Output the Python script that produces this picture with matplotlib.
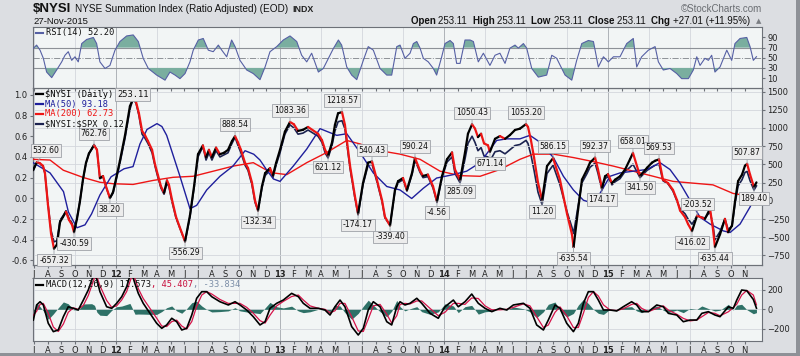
import matplotlib.pyplot as plt
from matplotlib.collections import LineCollection
from matplotlib.lines import Line2D
from matplotlib.patches import Rectangle
import numpy as np

W, H = 800, 356

# ---------------- data (dates as decimal years) ----------------
nysi_t = [2011.494, 2011.518, 2011.537, 2011.555, 2011.567, 2011.585, 2011.604, 2011.622, 2011.640, 2011.659,
          2011.677, 2011.695, 2011.713, 2011.732, 2011.744, 2011.762, 2011.780, 2011.799, 2011.817, 2011.835,
          2011.854, 2011.866, 2011.884, 2011.902, 2011.921, 2011.939, 2011.963, 2011.982, 2012.000, 2012.024,
          2012.055, 2012.085, 2012.104, 2012.122, 2012.140, 2012.159, 2012.177, 2012.195, 2012.220, 2012.238,
          2012.256, 2012.274, 2012.293, 2012.311, 2012.323, 2012.341, 2012.366, 2012.390, 2012.421, 2012.451,
          2012.476, 2012.500, 2012.530, 2012.549, 2012.567, 2012.585, 2012.610, 2012.634, 2012.659, 2012.683,
          2012.707, 2012.726, 2012.744, 2012.762, 2012.787, 2012.805, 2012.829, 2012.848, 2012.866, 2012.890,
          2012.909, 2012.939, 2012.957, 2012.976, 2013.000, 2013.030, 2013.061, 2013.085, 2013.110, 2013.140,
          2013.171, 2013.232, 2013.256, 2013.275, 2013.293, 2013.317, 2013.335, 2013.354, 2013.378, 2013.396,
          2013.427, 2013.457, 2013.476, 2013.506, 2013.537, 2013.561, 2013.591, 2013.622, 2013.640, 2013.671,
          2013.701, 2013.720, 2013.750, 2013.774, 2013.805, 2013.823, 2013.854, 2013.872, 2013.902, 2013.933,
          2013.957, 2013.988, 2014.018, 2014.049, 2014.067, 2014.098, 2014.128, 2014.146, 2014.171, 2014.189,
          2014.207, 2014.226, 2014.244, 2014.268, 2014.280, 2014.311, 2014.341, 2014.372, 2014.402, 2014.433,
          2014.463, 2014.500, 2014.512, 2014.530, 2014.549, 2014.573, 2014.598, 2014.628, 2014.665, 2014.707,
          2014.750, 2014.780, 2014.790, 2014.817, 2014.841, 2014.872, 2014.890, 2014.921, 2014.939, 2014.963,
          2014.982, 2015.000, 2015.024, 2015.043, 2015.073, 2015.104, 2015.134, 2015.152, 2015.195, 2015.238,
          2015.268, 2015.287, 2015.311, 2015.335, 2015.366, 2015.396, 2015.421, 2015.439, 2015.470, 2015.488,
          2015.512, 2015.543, 2015.591, 2015.622, 2015.640, 2015.652, 2015.683, 2015.713, 2015.732, 2015.756,
          2015.774, 2015.793, 2015.817, 2015.835, 2015.848, 2015.866, 2015.890, 2015.905]
nysi_v = [420, 532.60, 515, 480, 380, -50, -450, -657.32, -600, -290,
          -220, -150, -260, -330, -430.59, -250, -10, 300, 520, 650,
          720, 762.76, 700, 313, 340, 200, 38.20, 120, 300, 550,
          900, 1300, 1400, 1360, 1200, 960, 900, 820, 700, 500,
          350, 200, 110, 280, 220, 20, -220, -370, -556.29, -200,
          200, 640, 760, 600, 700, 600, 730, 640, 660, 700,
          820, 888.54, 800, 700, 520, 450, 250, 0, -132.34, 200,
          380, 450, 350, 520, 700, 950, 1083.36, 1050, 960, 975,
          1014, 921, 833, 700, 621.12, 800, 1043, 1202, 1218.57, 1043,
          480, 60, -174.17, 243, 524, 540.43, 290, 8, -220, -339.40,
          150, 270, 313, 150, 383, 590.24, 412, 341, 360, 200,
          -4.56, 341, 570, 664, 430, 285.09, 664, 921, 1050.43, 991,
          875, 921, 789, 762, 671.14, 851, 889, 851, 903, 973,
          991, 1053.20, 1015, 833, 594, 250, 11.20, 477, 586.15, 290,
          -178, -459, -635.54, -132, 290, 430, 524, 592.37, 430, 174.17,
          337, 365, 243, 290, 337, 430, 570, 658.01, 341.50, 454,
          524, 550, 569.53, 290, 243, 150, 8, -132, -226, -319,
          -416.02, -203.52, -248, -108, -389, -635.44, -459, -248, -431, -338,
          -10, 270, 360, 482, 507.87, 360, 189.40, 253.11]
# $NYSI:$SPX ratio (left axis), same dates
ratio_v = [0.26, 0.35, 0.33, 0.31, 0.24, -0.05, -0.31, -0.42, -0.41, -0.21,
           -0.17, -0.12, -0.19, -0.24, -0.31, -0.19, -0.03, 0.18, 0.34, 0.43,
           0.48, 0.52, 0.47, 0.19, 0.21, 0.11, 0.00, 0.05, 0.17, 0.34,
           0.58, 0.86, 0.96, 0.92, 0.80, 0.62, 0.58, 0.53, 0.44, 0.31,
           0.20, 0.10, 0.04, 0.15, 0.11, -0.03, -0.19, -0.29, -0.42, -0.18,
           0.10, 0.40, 0.50, 0.37, 0.44, 0.37, 0.46, 0.40, 0.42, 0.44,
           0.53, 0.59, 0.51, 0.44, 0.32, 0.27, 0.13, -0.04, -0.12, 0.10,
           0.22, 0.27, 0.20, 0.32, 0.44, 0.62, 0.71, 0.68, 0.62, 0.63,
           0.66, 0.60, 0.54, 0.44, 0.39, 0.51, 0.65, 0.74, 0.75, 0.67,
           0.29, 0.00, -0.16, 0.13, 0.32, 0.33, 0.16, -0.03, -0.19, -0.26,
           0.07, 0.15, 0.18, 0.07, 0.23, 0.37, 0.25, 0.20, 0.21, 0.10,
           -0.04, 0.20, 0.35, 0.40, 0.24, 0.15, 0.38, 0.53, 0.60, 0.54,
           0.46, 0.49, 0.41, 0.40, 0.36, 0.45, 0.46, 0.43, 0.47, 0.51,
           0.52, 0.56, 0.53, 0.42, 0.27, 0.06, -0.06, 0.24, 0.32, 0.13,
           -0.13, -0.28, -0.34, -0.08, 0.15, 0.24, 0.30, 0.34, 0.24, 0.08,
           0.19, 0.21, 0.13, 0.16, 0.19, 0.26, 0.30, 0.33, 0.20, 0.27,
           0.30, 0.32, 0.33, 0.17, 0.14, 0.07, -0.03, -0.10, -0.15, -0.20,
           -0.25, -0.17, -0.19, -0.13, -0.26, -0.40, -0.32, -0.20, -0.30, -0.27,
           -0.06, 0.12, 0.18, 0.25, 0.26, 0.17, 0.08, 0.12]

ma50_t = [2011.494, 2011.598, 2011.680, 2011.710, 2011.762, 2011.811, 2011.851, 2011.902, 2011.970, 2012.049,
          2012.104, 2012.146, 2012.189, 2012.250, 2012.280, 2012.309, 2012.390, 2012.451, 2012.492, 2012.553,
          2012.634, 2012.713, 2012.787, 2012.840, 2012.878, 2012.920, 2012.960, 2013.000, 2013.081, 2013.163,
          2013.244, 2013.346, 2013.407, 2013.488, 2013.569, 2013.651, 2013.732, 2013.803, 2013.874, 2013.955,
          2014.057, 2014.138, 2014.220, 2014.321, 2014.382, 2014.463, 2014.524, 2014.585, 2014.667, 2014.728,
          2014.789, 2014.850, 2014.901, 2014.951, 2015.012, 2015.073, 2015.154, 2015.236, 2015.317, 2015.378,
          2015.439, 2015.500, 2015.561, 2015.622, 2015.703, 2015.744, 2015.805, 2015.866, 2015.905]
ma50_v = [525, 383, 126, -154, -370, -330, -180, 80, 330, 440,
          470, 780, 980, 1060, 1020, 899, 337, -108, -62, 149,
          337, 477, 688, 640, 560, 420, 300, 267, 477, 711,
          991, 899, 921, 664, 383, 197, 149, 32, 173, 313,
          360, 407, 524, 829, 851, 851, 899, 805, 594, 337,
          149, 8, -28, 102, 337, 383, 407, 430, 524, 430,
          243, 8, -225, -319, -413, -435, -319, -84, 93.18]

ma200_t = [2011.494, 2011.598, 2011.679, 2011.801, 2011.902, 2011.982, 2012.104, 2012.226, 2012.348, 2012.470,
           2012.593, 2012.715, 2012.837, 2012.919, 2012.959, 2013.041, 2013.163, 2013.285, 2013.407, 2013.488,
           2013.610, 2013.732, 2013.854, 2013.976, 2014.098, 2014.220, 2014.341, 2014.463, 2014.545, 2014.667,
           2014.789, 2014.911, 2015.032, 2015.154, 2015.276, 2015.396, 2015.518, 2015.640, 2015.762, 2015.884,
           2015.905]
ma200_v = [570, 560, 420, 320, 255, 235, 225, 280, 323, 337,
           407, 477, 524, 420, 383, 360, 524, 664, 829, 781,
           688, 641, 570, 407, 346, 337, 430, 570, 641, 641,
           594, 538, 477, 407, 337, 267, 243, 219, 102, 56,
           62.73]

rsi_t = [2011.496, 2011.516, 2011.537, 2011.557, 2011.577, 2011.608, 2011.638, 2011.669, 2011.689, 2011.709,
         2011.730, 2011.750, 2011.770, 2011.791, 2011.821, 2011.862, 2011.882, 2011.902, 2011.933, 2011.963,
         2011.994, 2012.024, 2012.065, 2012.105, 2012.136, 2012.166, 2012.197, 2012.248, 2012.299, 2012.329,
         2012.360, 2012.390, 2012.421, 2012.451, 2012.471, 2012.502, 2012.532, 2012.563, 2012.593, 2012.624,
         2012.645, 2012.675, 2012.705, 2012.726, 2012.756, 2012.797, 2012.837, 2012.878, 2012.909, 2012.939,
         2012.980, 2013.020, 2013.061, 2013.102, 2013.132, 2013.163, 2013.193, 2013.234, 2013.264, 2013.295,
         2013.325, 2013.356, 2013.376, 2013.407, 2013.437, 2013.468, 2013.508, 2013.538, 2013.569, 2013.610,
         2013.651, 2013.681, 2013.712, 2013.732, 2013.762, 2013.793, 2013.813, 2013.834, 2013.854, 2013.874,
         2013.904, 2013.935, 2013.955, 2013.986, 2014.006, 2014.037, 2014.057, 2014.077, 2014.098, 2014.128,
         2014.159, 2014.179, 2014.209, 2014.240, 2014.280, 2014.311, 2014.341, 2014.372, 2014.402, 2014.433,
         2014.453, 2014.484, 2014.504, 2014.535, 2014.575, 2014.626, 2014.657, 2014.687, 2014.738, 2014.779,
         2014.809, 2014.840, 2014.880, 2014.911, 2014.941, 2014.972, 2015.002, 2015.033, 2015.073, 2015.114,
         2015.154, 2015.175, 2015.205, 2015.246, 2015.287, 2015.307, 2015.337, 2015.378, 2015.419, 2015.449,
         2015.490, 2015.520, 2015.541, 2015.561, 2015.591, 2015.612, 2015.632, 2015.652, 2015.683, 2015.724,
         2015.754, 2015.774, 2015.805, 2015.846, 2015.866, 2015.886, 2015.905]
rsi_v = [68.6, 75, 65, 49, 22, 11, 26, 42, 55, 62,
         45, 52, 42, 78, 86, 90, 78, 42, 29, 35,
         65, 82, 93, 95, 82, 49, 29, 16, 6, 22,
         16, 9, 19, 42, 65, 85, 88, 65, 62, 75,
         65, 52, 85, 72, 45, 26, 19, 7, 32, 62,
         72, 85, 93, 82, 55, 42, 59, 22, 29, 49,
         68, 85, 75, 32, 16, 7, 45, 72, 65, 29,
         16, 16, 72, 75, 49, 59, 78, 82, 69, 49,
         42, 29, 16, 52, 78, 84, 78, 39, 39, 85,
         85, 82, 42, 59, 35, 55, 59, 39, 69, 75,
         69, 78, 69, 29, 12, 16, 55, 49, 16, 6,
         45, 78, 84, 82, 32, 52, 42, 52, 52, 78,
         88, 32, 52, 65, 72, 42, 26, 29, 19, 9,
         9, 26, 52, 35, 49, 45, 55, 22, 32, 65,
         45, 78, 88, 90, 72, 45, 52.20]

macd_t = [2011.496, 2011.516, 2011.537, 2011.557, 2011.587, 2011.618, 2011.648, 2011.679, 2011.709, 2011.740,
          2011.770, 2011.801, 2011.831, 2011.852, 2011.869, 2011.884, 2011.902, 2011.943, 2011.974, 2012.004,
          2012.035, 2012.065, 2012.085, 2012.098, 2012.116, 2012.136, 2012.166, 2012.207, 2012.248, 2012.279,
          2012.309, 2012.340, 2012.370, 2012.401, 2012.431, 2012.462, 2012.492, 2012.523, 2012.553, 2012.584,
          2012.634, 2012.685, 2012.726, 2012.756, 2012.797, 2012.837, 2012.878, 2012.909, 2012.939, 2012.980,
          2013.020, 2013.071, 2013.112, 2013.142, 2013.183, 2013.234, 2013.274, 2013.305, 2013.335, 2013.366,
          2013.396, 2013.437, 2013.477, 2013.508, 2013.538, 2013.569, 2013.610, 2013.651, 2013.681, 2013.712,
          2013.732, 2013.762, 2013.793, 2013.834, 2013.864, 2013.915, 2013.965, 2014.006, 2014.057, 2014.087,
          2014.128, 2014.169, 2014.209, 2014.250, 2014.291, 2014.341, 2014.382, 2014.423, 2014.484, 2014.524,
          2014.565, 2014.606, 2014.636, 2014.677, 2014.707, 2014.748, 2014.789, 2014.819, 2014.850, 2014.880,
          2014.911, 2014.941, 2014.972, 2015.012, 2015.053, 2015.093, 2015.144, 2015.175, 2015.205, 2015.246,
          2015.297, 2015.337, 2015.368, 2015.419, 2015.459, 2015.500, 2015.541, 2015.572, 2015.612, 2015.652,
          2015.683, 2015.734, 2015.764, 2015.785, 2015.815, 2015.846, 2015.886, 2015.905]
macd_v = [-109, 44, 77, 44, -142, -227, -210, -75, 26, 10,
          -7, 94, 196, 297, 360, 300, 180, 26, 10, 61,
          128, 229, 340, 355, 260, 162, 61, -41, -142, -193,
          -159, -91, -126, -210, -193, -58, 112, 179, 179, 128,
          77, 44, 77, 44, -7, -75, -159, -126, 10, 61,
          94, 162, 128, 61, 10, 10, -7, -58, 26, 94,
          26, -176, -261, -193, -7, 77, 26, -126, -159, 26,
          77, 44, 61, 112, 61, -41, -91, 26, 94, 26,
          77, 155, 61, 10, -24, 10, -7, 44, 61, 10,
          -159, -210, -109, 44, 10, -142, -227, -142, 61, 179,
          179, 94, -7, -7, -17, 26, 77, 44, -24, -24,
          44, 26, -41, -58, -126, -109, -109, -41, -24, -58,
          -75, 26, 10, 94, 196, 189, 100, 11.573]
signal_v = [-60, -20, 50, 60, -40, -180, -225, -150, -30, 15,
            0, 40, 140, 240, 320, 330, 240, 90, 20, 35,
            95, 180, 280, 340, 310, 210, 110, 10, -90, -170,
            -175, -125, -110, -170, -200, -125, 30, 145, 180, 155,
            100, 60, 60, 60, 20, -40, -115, -140, -60, 35,
            80, 130, 145, 95, 35, 10, 0, -35, -15, 60,
            60, -75, -220, -225, -100, 35, 50, -50, -140, -65,
            50, 60, 55, 85, 85, 10, -65, -30, 60, 60,
            50, 115, 110, 35, -5, -5, 0, 20, 55, 35,
            -75, -185, -160, -30, 25, -65, -185, -185, -40, 120,
            180, 135, 45, -7, -12, 5, 50, 60, 10, -24,
            10, 35, -8, -50, -92, -118, -109, -75, -32, -41,
            -66, -25, 18, 52, 145, 192, 145, 45.407]
hist_v = [-49, 64, 27, -16, -102, -47, 15, 75, 56, -5,
          -7, 54, 56, 57, 40, -30, -60, -64, -10, 26,
          33, 49, 60, 15, -50, -48, -49, -51, -52, -23,
          16, 34, -16, -40, 7, 67, 82, 34, -1, -27,
          -23, -16, 17, -16, -27, -35, -44, 14, 70, 26,
          14, 32, -17, -34, -25, 0, -7, -23, 41, 34,
          -34, -101, -41, 32, 93, 42, -24, -76, -19, 91,
          27, -16, 6, 27, -24, -51, -26, 56, 34, -34,
          27, 40, -49, -25, -19, 15, -7, 24, 6, -25,
          -84, -25, 51, 74, -15, -77, -42, 43, 101, 59,
          -1, -41, -52, 0, -5, 21, 27, -16, -34, 0,
          34, -9, -33, -8, -34, 9, 0, 34, 8, -17,
          -9, 51, -8, 42, 51, -3, -45, -33.834]

# peak / trough value labels on the $NYSI line
label_t = [2011.518, 2011.622, 2011.744, 2011.866, 2011.963, 2012.421, 2012.726, 2012.866, 2013.061, 2013.293,
           2013.378, 2013.476, 2013.561, 2013.671, 2013.823, 2013.957, 2014.098, 2014.171, 2014.280, 2014.500,
           2014.598, 2014.665, 2014.790, 2014.921, 2014.963, 2015.152, 2015.195, 2015.311, 2015.512, 2015.543,
           2015.652, 2015.848, 2015.890]
label_v = [532.60, -657.32, -430.59, 762.76, 38.20, -556.29, 888.54, -132.34, 1083.36, 621.12,
           1218.57, -174.17, 540.43, -339.40, 590.24, -4.56, 285.09, 1050.43, 671.14, 1053.20,
           11.20, 586.15, -635.54, 592.37, 174.17, 658.01, 341.50, 569.53, -416.02, -203.52,
           -635.44, 507.87, 189.40]
label_up = [1, 0, 0, 1, 0, 0, 1, 0, 1, 0,
            1, 0, 1, 0, 1, 0, 0, 1, 0, 1,
            0, 1, 0, 1, 0, 1, 0, 1, 0, 1,
            0, 1, 0]

# ---------------- styling ----------------
plt.rcParams['font.family'] = 'DejaVu Sans'
FIG_BG = '#dcdee2'
PANEL_BG = '#f2f5f5'
GRID = '#d3d7dc'
YEAR_GRID = '#aeb2b8'
SPINE = '#6d7178'
TICK_FS = 6
MONO = 'DejaVu Sans Mono'
HEAD = 'Liberation Sans'


def fx(px):
    return px / W


def fy(py):
    return 1 - py / H


fig = plt.figure(figsize=(W / 100, H / 100), dpi=100, facecolor=FIG_BG)
renderer = fig.canvas.get_renderer()


def text_row(pieces, x0, y, align='left', gap=0):
    # pieces: (text, fontsize, weight, color, family)
    arts = []
    for txt, fs, wt, col, fam in pieces:
        t = fig.text(0, fy(y), txt, fontsize=fs, fontweight=wt, color=col, family=fam,
                     va='center', ha='left')
        arts.append(t)
    widths = [a.get_window_extent(renderer).width for a in arts]
    total = sum(widths) + gap * (len(arts) - 1)
    x = x0 if align == 'left' else x0 - total
    for a, w in zip(arts, widths):
        a.set_x(fx(x))
        x += w + gap


left, right = 33, 761.7
pw = (right - left) / W
ax_rsi = fig.add_axes([fx(left), fy(88.3), pw, (88.3 - 27.3) / H])
ax = fig.add_axes([fx(left), fy(265), pw, (265 - 88.3) / H])
ax_macd = fig.add_axes([fx(left), fy(341), pw, (341 - 278.3) / H])

xmin, xmax = 2011.494, 2015.937

# month ticks
tick_pos, tick_lab, tick_bold, quarter_pos, year_pos = [], [], [], [], []
for yr in range(2011, 2016):
    for m in range(1, 13):
        p = yr + (m - 1) / 12
        if p < 2011.49 or p > 2015.85:
            continue
        tick_pos.append(p)
        if m == 1:
            tick_lab.append('%02d' % (yr % 100))
            tick_bold.append(True)
            year_pos.append(p)
        else:
            tick_lab.append('JFMAMJJASOND'[m - 1])
            tick_bold.append(False)
        if m in (4, 7, 10):
            quarter_pos.append(p)


def style_panel(a, show_x):
    a.set_xlim(xmin, xmax)
    a.set_facecolor(PANEL_BG)
    for s in a.spines.values():
        s.set_color(SPINE)
        s.set_linewidth(0.8)
    a.set_xticks(tick_pos)
    if show_x:
        a.set_xticklabels(tick_lab)
        for lab, b in zip(a.get_xticklabels(), tick_bold):
            if b:
                lab.set_fontweight('bold')
                lab.set_fontsize(TICK_FS + 0.8)
    else:
        a.set_xticklabels([])
    a.tick_params(axis='x', labelsize=TICK_FS, length=2, pad=1.5, color=SPINE, colors='#222222')
    a.tick_params(axis='y', labelsize=TICK_FS, length=2, pad=2, color=SPINE, colors='#222222')


# ---------------- RSI panel ----------------
style_panel(ax_rsi, False)
ax_rsi.set_ylim(-10, 110)
ax_rsi.yaxis.tick_right()
ax_rsi.set_yticks([10, 30, 50, 70, 90])
for p in quarter_pos:
    ax_rsi.axvline(p, color=GRID, lw=0.6, zorder=0)
for p in year_pos:
    ax_rsi.axvline(p, color=YEAR_GRID, lw=0.7, zorder=0)
ax_rsi.axhline(70, color='#8d9197', lw=0.8, zorder=1)
ax_rsi.axhline(30, color='#8d9197', lw=0.8, zorder=1)
ax_rsi.axhline(50, color='#8d9197', lw=0.7, ls='-.', zorder=1)
rt = np.array(rsi_t)
rv = np.array(rsi_v)
ax_rsi.fill_between(rt, 70, rv, where=rv > 70, interpolate=True, color='#7aae9f', lw=0, zorder=2)
ax_rsi.fill_between(rt, 30, rv, where=rv < 30, interpolate=True, color='#7aae9f', lw=0, zorder=2)
ax_rsi.plot(rt, rv, color='#5660a4', lw=0.8, zorder=3)
fig.add_artist(Line2D([fx(36), fx(43)], [fy(32.5), fy(32.5)], color='#5660a4', lw=1.5, transform=fig.transFigure))
fig.text(fx(46), fy(32.5), 'RSI(14) 52.20', fontsize=6.3, family=MONO, va='center', ha='left', color='#111111')

# ---------------- main panel ----------------
axl = ax.twinx()
axl.set_zorder(ax.get_zorder() - 1)
ax.patch.set_visible(False)
axl.patch.set_visible(True)
style_panel(ax, True)
axl.set_facecolor(PANEL_BG)
for s in axl.spines.values():
    s.set_color(SPINE)
    s.set_linewidth(0.8)
ax.yaxis.tick_right()
axl.yaxis.tick_left()
axl.tick_params(axis='y', labelsize=TICK_FS, length=2, pad=2, color=SPINE, colors='#222222')

ax.set_ylim(-881, 1545)
ax.set_yticks([-750, -500, -250, 0, 250, 500, 750, 1000, 1250, 1500])
axl.set_ylim(-0.644, 1.063)
axl.set_yticks([-0.6, -0.4, -0.2, 0.0, 0.2, 0.4, 0.6, 0.8, 1.0])
axl.set_yticklabels(['%.1f' % v for v in [-0.6, -0.4, -0.2, 0.0, 0.2, 0.4, 0.6, 0.8, 1.0]])
axl.set_xlim(xmin, xmax)

for p in quarter_pos:
    axl.axvline(p, color=GRID, lw=0.6, zorder=0)
for p in year_pos:
    axl.axvline(p, color=YEAR_GRID, lw=0.7, zorder=0)
for v in [-750, -500, -250, 0, 250, 500, 750, 1000, 1250, 1500]:
    ax.axhline(v, color=GRID, lw=0.6, zorder=0)

# ratio line (left scale)
axl.plot(nysi_t, ratio_v, color='#1c2350', lw=1.2, zorder=3)

# moving averages
ax.plot(ma200_t, ma200_v, color='#ee1515', lw=1.0, zorder=3)
ax.plot(ma50_t, ma50_v, color='#1f1f9c', lw=1.0, zorder=3)

# $NYSI line: black on up-moves, red on down-moves
pts = np.column_stack([nysi_t, nysi_v])
segs = np.stack([pts[:-1], pts[1:]], axis=1)
cols = ['#000000' if b >= a else '#ee1515' for a, b in zip(nysi_v[:-1], nysi_v[1:])]
ax.add_collection(LineCollection(segs, colors=cols, linewidths=1.6, zorder=4, capstyle='round', joinstyle='round'))

for t, v, up in zip(label_t, label_v, label_up):
    dx = 0
    ha = 'center'
    if t < 2011.55:
        ha = 'left'
        dx = -3
    ax.annotate('%.2f' % v, xy=(t, v), xytext=(dx, 5 if up else -5), textcoords='offset points',
                ha=ha, va='bottom' if up else 'top', fontsize=5.6, color='#111111',
                bbox=dict(boxstyle='square,pad=0.22', fc='#ececec', ec='#9ea2a8', lw=0.6),
                arrowprops=dict(arrowstyle='-', color='#9ea2a8', lw=0.6, shrinkA=0, shrinkB=0),
                zorder=6, annotation_clip=False)

# legend
leg = [(r'\$NYSI (Daily)', '#000000', 94.3),
       ('MA(50) 93.18', '#1f1f9c', 104.0),
       ('MA(200) 62.73', '#ee1515', 113.8),
       (r'\$NYSI:\$SPX 0.12', '#111111', 123.5)]
for txt, c, yy in leg:
    lc = '#1c2350' if txt.startswith(r'\$NYSI:') else c
    fig.add_artist(Line2D([fx(36), fx(43)], [fy(yy), fy(yy)], color=lc, lw=1.6, transform=fig.transFigure))
    fig.text(fx(45), fy(yy), txt, fontsize=6.3, family=MONO, color=c, va='center', ha='left')
fig.text(fx(117), fy(94.3), '253.11', fontsize=6.3, family=MONO, color='#111111', va='center', ha='left',
         bbox=dict(boxstyle='square,pad=0.2', fc='#ececec', ec='#9ea2a8', lw=0.6))

# ---------------- MACD panel ----------------
style_panel(ax_macd, True)
ax_macd.set_ylim(-322, 315)
ax_macd.yaxis.tick_right()
ax_macd.set_yticks([-200, 0, 200])
for p in quarter_pos:
    ax_macd.axvline(p, color=GRID, lw=0.6, zorder=0)
for p in year_pos:
    ax_macd.axvline(p, color=YEAR_GRID, lw=0.7, zorder=0)
for v in [-200, 0, 200]:
    ax_macd.axhline(v, color=GRID, lw=0.6, zorder=0)
ax_macd.fill_between(macd_t, 0, hist_v, color='#2e7167', lw=0, zorder=2)
ax_macd.plot(macd_t, signal_v, color='#d6144a', lw=0.9, zorder=3)
ax_macd.plot(macd_t, macd_v, color='#000000', lw=1.2, zorder=4)
fig.add_artist(Line2D([fx(36), fx(43)], [fy(285), fy(285)], color='#000000', lw=1.6, transform=fig.transFigure))
text_row([('MACD(12,26,9) 11.573', 6.3, 'normal', '#111111', MONO),
          (', 45.407', 6.3, 'normal', '#c8103e', MONO),
          (', -33.834', 6.3, 'normal', '#7d8fa8', MONO)], 46, 285)

# ---------------- header texts ----------------
text_row([(r'\$NYSI', 9.5, 'bold', '#111111', HEAD),
          ('NYSE Summation Index (Ratio Adjusted) (EOD)', 7.2, 'normal', '#111111', HEAD),
          ('INDX', 6.4, 'bold', '#222222', HEAD)], 33, 9.5, gap=4)
fig.text(fx(33), fy(21.5), '27-Nov-2015', fontsize=6.8, family=HEAD, va='center', ha='left', color='#111111')
fig.text(fx(762), fy(9), '\u00a9StockCharts.com', fontsize=7, family=HEAD, va='center', ha='right', color='#6a6d72')

ohlc = []
for lab, val in [('Open', '253.11'), ('High', '253.11'), ('Low', '253.11'), ('Close', '253.11'),
                 ('Chg', '+27.01 (+11.95%)')]:
    ohlc.append((lab + ' ', 7, 'bold', '#111111', HEAD))
    ohlc.append((val + '  ', 7, 'normal', '#111111', HEAD))
ohlc.append(('\u25b2', 5, 'normal', '#7a7d82', 'DejaVu Sans'))
text_row(ohlc, 761, 21.5, align='right')

# frame shadow
fig.add_artist(Rectangle((fx(796), 0), 4 / W, 1, transform=fig.transFigure, color='#8e9197', lw=0))
fig.add_artist(Rectangle((0, 0), 1, 3 / H, transform=fig.transFigure, color='#8e9197', lw=0))

fig.savefig('out.png', dpi=100, facecolor=FIG_BG)
